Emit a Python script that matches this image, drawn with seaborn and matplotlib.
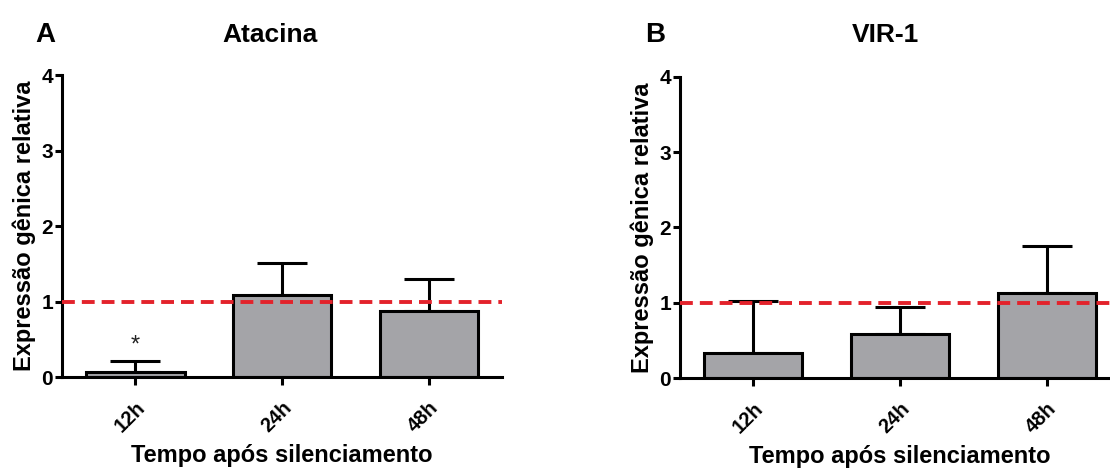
import numpy as np
import seaborn as sns
import matplotlib
matplotlib.use("Agg")
import matplotlib.pyplot as plt

# ---------------- DATA ----------------
categories = ["12h", "24h", "48h"]
atacina_mean = [0.07, 1.08, 0.87]
atacina_upper = [0.21, 1.51, 1.30]
vir1_mean = [0.33, 0.59, 1.13]
vir1_upper = [1.02, 0.94, 1.75]

xlabel = "Tempo após silenciamento"
ylabel = "Expressão gênica relativa"

# ---------------- STYLE ----------------
sns.set_style("ticks")
plt.rcParams["font.family"] = ["Liberation Sans", "DejaVu Sans"]
plt.rcParams["font.weight"] = "bold"
for key in ["text.color", "axes.labelcolor", "xtick.color", "ytick.color",
            "axes.edgecolor"]:
    plt.rcParams[key] = "black"

BAR_GRAY = "#a4a4a8"
RED = "#e3222b"
LW = 2.2

fig = plt.figure(figsize=(11.1, 4.68), dpi=100)
axA = fig.add_axes([0.0559, 0.1944, 0.3964, 0.6453])
axB = fig.add_axes([0.6126, 0.1923, 0.3964, 0.6432])


def draw_panel(ax, mean, upper, star=False):
    sns.barplot(x=categories, y=mean, ax=ax, color=BAR_GRAY, saturation=1,
                edgecolor="black", linewidth=LW, width=0.67, errorbar=None,
                zorder=2)
    mean = np.array(mean)
    upper = np.array(upper)
    ax.errorbar(np.arange(len(categories)), mean,
                yerr=[np.zeros(len(mean)), upper - mean],
                fmt="none", ecolor="black", elinewidth=LW, capsize=18,
                capthick=LW, zorder=1)
    ax.axhline(1, color=RED, lw=2.8, dashes=(3.3, 1.8), zorder=5)
    if star:
        ax.text(0, 0.42, "*", ha="center", va="center", fontsize=17,
                fontweight="normal", color="#222222")
    ax.set_xlim(-0.5, 2.5)
    ax.set_ylim(0, 4)
    ax.set_yticks([0, 1, 2, 3, 4])
    sns.despine(ax=ax)
    for s in ["left", "bottom"]:
        ax.spines[s].set_linewidth(LW)
        ax.spines[s].set_color("black")
    ax.tick_params(axis="y", length=5, width=LW, labelsize=15, pad=1.5)
    ax.tick_params(axis="x", length=6, width=LW, labelsize=14.5, pad=9)
    for lab in ax.get_xticklabels():
        lab.set_rotation(45)
        lab.set_ha("right")
        lab.set_rotation_mode("anchor")
        lab.set_fontweight("bold")
    for lab in ax.get_yticklabels():
        lab.set_fontweight("bold")
    ax.set_xlabel(xlabel, fontsize=17, fontweight="bold", labelpad=6)
    ax.set_ylabel(ylabel, fontsize=17, fontweight="bold", labelpad=4)


draw_panel(axA, atacina_mean, atacina_upper, star=True)
draw_panel(axB, vir1_mean, vir1_upper)

# panel letters and titles
fig.text(35 / 1110, 1 - 42 / 468, "A", fontsize=20, fontweight="bold",
         ha="left", va="baseline")
fig.text(270 / 1110, 1 - 42 / 468, "Atacina", fontsize=19, fontweight="bold",
         ha="center", va="baseline")
fig.text(645 / 1110, 1 - 42 / 468, "B", fontsize=20, fontweight="bold",
         ha="left", va="baseline")
fig.text(885 / 1110, 1 - 42 / 468, "VIR-1", fontsize=19, fontweight="bold",
         ha="center", va="baseline")

fig.savefig("out.png", dpi=100)
